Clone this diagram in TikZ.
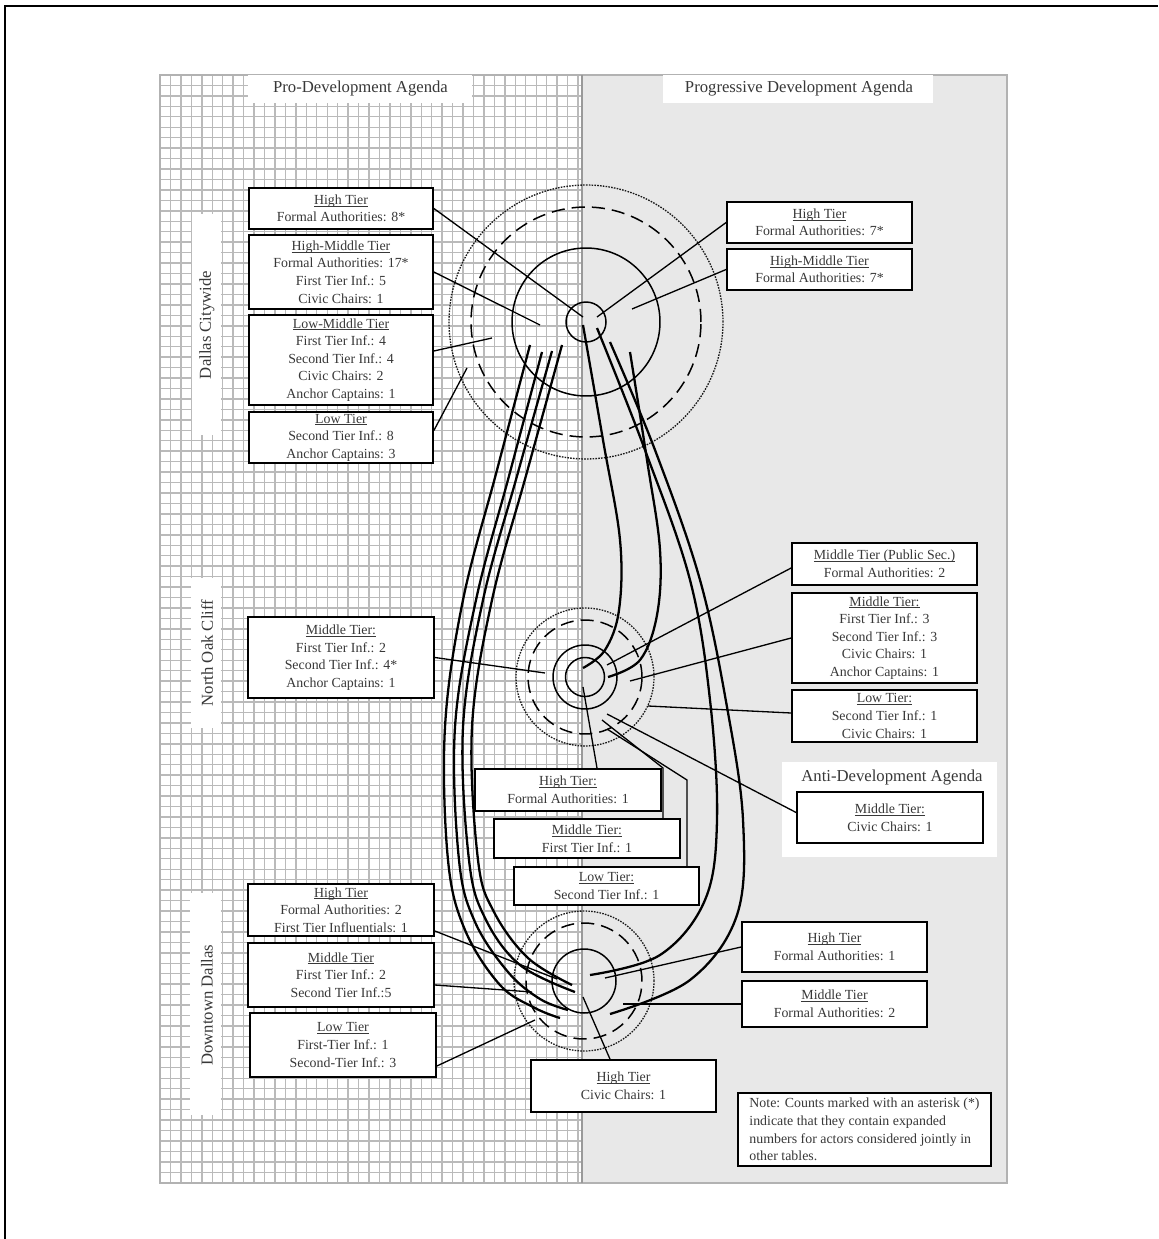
\documentclass[tikz,border=0pt]{standalone}
\usepackage{fontspec}
\setmainfont{Liberation Serif}
\usetikzlibrary{calc}
\newcommand\hd[1]{\setbox0\hbox{#1}\rlap{\rule[-1.1pt]{\wd0}{0.45pt}}\box0}
\begin{document}
\begin{tikzpicture}[x=0.02cm,y=-0.02cm,
  tbox/.style={draw=black, line width=1pt, fill=white, align=center, inner sep=0pt, text=black!78, font=\fontsize{7.9}{10}\selectfont},
  sz/.style 2 args={minimum width=#1*0.02cm, minimum height=#2*0.02cm},
  conn/.style={line width=0.75pt, black},
  loopline/.style={line width=1.3pt, black},
  ring/.style={line width=0.85pt, black},
  dring/.style={line width=0.85pt, black, dash pattern=on 7.5pt off 4pt},
  oring/.style={line width=0.75pt, black!90, dash pattern=on 0.9pt off 0.7pt},
  lab/.style={inner sep=0pt, text=black!78, font=\fontsize{9.5}{11}\selectfont},
  gridl/.style={line width=0.8pt, black!27},
]
\useasboundingbox (0,0) rectangle (1158,1239);
\fill[white] (0,0) rectangle (1158,1239);
% outer frame (top and left)
\draw[line width=1.1pt, black] (5,1239) -- (5,6) -- (1158,6);

% panel backgrounds
\fill[black!9] (582,75) rectangle (1007,1183);
\begin{scope}
  \clip (160,75) rectangle (582,1183);
  \foreach \i in {0,...,41} \draw[gridl] ({160+\i*10.45},75) -- ({160+\i*10.45},1183);
  \foreach \j in {0,...,106} \draw[gridl] (160,{75+\j*10.45}) -- (582,{75+\j*10.45});
\end{scope}
\draw[black!30, line width=0.8pt] (160,75) rectangle (1007,1183);
\draw[black!40, line width=1pt] (582,75) -- (582,1183);

% white label areas
\fill[white] (248,75) rectangle (472,103);
\fill[white] (663,75) rectangle (933,103);
\fill[white] (192,214) rectangle (221,435);
\fill[white] (191,578) rectangle (221,728);
\fill[white] (190,893) rectangle (221,1115);
\fill[white] (782,762) rectangle (997,857);
\node[lab] (proLab) at (360.5,89) {Pro-Development Agenda};
\node[lab] (progLab) at (799,89) {Progressive Development Agenda};
\node[lab, rotate=90] (dcw) at (207,325) {Dallas Citywide};
\node[lab, rotate=90] (noc) at (207,653) {North Oak Cliff};
\node[lab, rotate=90] (dtd) at (207,1005) {Downtown Dallas};
\node[lab] (antiLab) at (892,778) {Anti-Development Agenda};

% cluster centres
\coordinate (T) at (586,322);
\coordinate (M) at (585,677);
\coordinate (B) at (584,981);

% top cluster rings
\draw[oring] (T) circle[radius=2.74cm];
\draw[dring] (T) circle[radius=2.30cm];
\draw[ring] (T) circle[radius=1.48cm];
\draw[ring] (T) circle[radius=0.40cm];
% middle cluster rings
\draw[oring] (M) circle[radius=1.38cm];
\draw[dring] (M) circle[radius=1.14cm];
\draw[ring] (M) circle[radius=0.64cm];
\draw[ring] (M) circle[radius=0.39cm];
% bottom cluster rings
\draw[oring] (B) circle[radius=1.40cm];
\draw[dring] (B) circle[radius=1.16cm];
\draw[ring] (B) circle[radius=0.64cm];

% loops: left side, top to bottom
\draw[loopline] plot[smooth, tension=0.6] coordinates {(530,345) (497,470) (463,600) (445,727) (448,860) (465,930) (500,985) (535,1008) (560,1018)};
\draw[loopline] plot[smooth, tension=0.6] coordinates {(542,352) (509,476) (476,600) (455,727) (459,860) (475,922) (508,972) (540,999) (568,1010)};
\draw[loopline] plot[smooth, tension=0.6] coordinates {(552,351) (517,476) (483,600) (463,727) (469,860) (485,918) (520,965) (575,992)};
\draw[loopline] plot[smooth, tension=0.6] coordinates {(562,345) (527,472) (492,600) (472,727) (478,860) (494,912) (528,958) (572,985)};
% loops: right side
\draw[loopline] plot[smooth, tension=0.6] coordinates {(583,325) (603,440) (620,540) (619,610) (605,650) (583,668)};
\draw[loopline] plot[smooth, tension=0.6] coordinates {(630,352) (647,460) (660,550) (657,615) (640,660) (608,677)};
\draw[loopline] plot[smooth, tension=0.6] coordinates {(597,328) (645,450) (690,580) (710,700) (717,820) (705,900) (660,955) (590,975)};
\draw[loopline] plot[smooth, tension=0.6] coordinates {(610,342) (655,450) (700,580) (727,707) (743,820) (737,915) (690,980) (610,1014)};

% boxes: Dallas Citywide
\node[tbox, sz={184}{41}] (tlHigh) at (341,208.5) {\hd{High Tier}\\Formal Authorities: 8*};
\node[tbox, sz={184}{74}] (tlHM) at (341,272) {\hd{High-Middle Tier}\\Formal Authorities: 17*\\First Tier Inf.: 5\\Civic Chairs: 1};
\node[tbox, sz={184}{90}] (tlLM) at (341,360) {\hd{Low-Middle Tier}\\First Tier Inf.: 4\\Second Tier Inf.: 4\\Civic Chairs: 2\\Anchor Captains: 1};
\node[tbox, sz={184}{51}] (tlLow) at (341,437.5) {\hd{Low Tier}\\Second Tier Inf.: 8\\Anchor Captains: 3};
\node[tbox, sz={185}{41}] (trHigh) at (819.5,222.5) {\hd{High Tier}\\Formal Authorities: 7*};
\node[tbox, sz={185}{41}] (trHM) at (819.5,269.5) {\hd{High-Middle Tier}\\Formal Authorities: 7*};
% boxes: North Oak Cliff
\node[tbox, sz={186}{81}] (mlMid) at (341,657.5) {\hd{Middle Tier:}\\First Tier Inf.: 2\\Second Tier Inf.: 4*\\Anchor Captains: 1};
\node[tbox, sz={185}{42}] (mrPub) at (884.5,564) {\hd{Middle Tier (Public Sec.)}\\Formal Authorities: 2};
\node[tbox, sz={185}{90}] (mrMid) at (884.5,638) {\hd{Middle Tier:}\\First Tier Inf.: 3\\Second Tier Inf.: 3\\Civic Chairs: 1\\Anchor Captains: 1};
\node[tbox, sz={185}{52}] (mrLow) at (884.5,716) {\hd{Low Tier:}\\Second Tier Inf.: 1\\Civic Chairs: 1};
\node[tbox, sz={186}{51}] (antiMid) at (890,817.5) {\hd{Middle Tier:}\\Civic Chairs: 1};
\node[tbox, sz={186}{42}] (mbHigh) at (568,790) {\hd{High Tier:}\\Formal Authorities: 1};
\node[tbox, sz={186}{39}] (mbMid) at (587,838.5) {\hd{Middle Tier:}\\First Tier Inf.: 1};
\node[tbox, sz={185}{38}] (mbLow) at (606.5,886) {\hd{Low Tier:}\\Second Tier Inf.: 1};
% boxes: Downtown Dallas
\node[tbox, sz={186}{52}] (blHigh) at (341,910) {\hd{High Tier}\\Formal Authorities: 2\\First Tier Influentials: 1};
\node[tbox, sz={186}{64}] (blMid) at (341,975) {\hd{Middle Tier}\\First Tier Inf.: 2\\Second Tier Inf.:5};
\node[tbox, sz={186}{64}] (blLow) at (343,1045) {\hd{Low Tier}\\First-Tier Inf.: 1\\Second-Tier Inf.: 3};
\node[tbox, sz={185}{50}] (brHigh) at (834.5,947) {\hd{High Tier}\\Formal Authorities: 1};
\node[tbox, sz={185}{46}] (brMid) at (834.5,1004) {\hd{Middle Tier}\\Formal Authorities: 2};
\node[tbox, sz={185}{52}] (bcHigh) at (623.5,1086) {\hd{High Tier}\\Civic Chairs: 1};
\node[tbox, sz={253}{73}, align=left] (note) at (864.5,1129.5) {Note: Counts marked with an asterisk (*)\\indicate that they contain expanded\\numbers for actors considered jointly in\\other tables.};

% connector end points
\coordinate (e1) at (583,317);
\coordinate (e2) at (540,325);
\coordinate (e3) at (492,338);
\coordinate (e4) at (467,368);
\coordinate (e5) at (597,317);
\coordinate (e6) at (632,309);
\coordinate (e7) at (545,673);
\coordinate (e8) at (607,665);
\coordinate (e9) at (630,681);
\coordinate (e10) at (648,706);
\coordinate (e11) at (607,714);
\coordinate (e12) at (583,687);
\coordinate (e13) at (602,720);
\coordinate (k13) at (663,768);
\coordinate (e14) at (607,729);
\coordinate (k14) at (687,780);
\coordinate (e15) at (557,979);
\coordinate (e16) at (532,992);
\coordinate (e17) at (535,1020);
\coordinate (e18) at (605,978);
\coordinate (e19) at (623,1004);
\coordinate (e20) at (583,997);

% connectors
\draw[conn] (tlHigh.east) -- (e1);
\draw[conn] (tlHM.east) -- (e2);
\draw[conn] ($(tlLM.east)+(0,-9)$) -- (e3);
\draw[conn] ($(tlLow.east)+(0,-7)$) -- (e4);
\draw[conn] (trHigh.west) -- (e5);
\draw[conn] (trHM.west) -- (e6);
\draw[conn] (mlMid.east) -- (e7);
\draw[conn] ($(mrPub.west)+(0,4)$) -- (e8);
\draw[conn] (mrMid.west) -- (e9);
\draw[conn] ($(mrLow.west)+(0,-3)$) -- (e10);
\draw[conn] ($(antiMid.west)+(0,-5)$) -- (e11);
\draw[conn] ($(mbHigh.north)+(29,0)$) -- (e12);
\draw[conn] (e13) -- (k13) -- (k13 |- mbMid.north);
\draw[conn] (e14) -- (k14) -- (k14 |- mbLow.north);
\draw[conn] ($(blHigh.east)+(0,21)$) -- (e15);
\draw[conn] ($(blMid.east)+(0,10)$) -- (e16);
\draw[conn] ($(blLow.east)+(0,21)$) -- (e17);
\draw[conn] (brHigh.west) -- (e18);
\draw[conn] (brMid.west) -- (e19);
\draw[conn] ($(bcHigh.north)+(-13.5,0)$) -- (e20);
\end{tikzpicture}
\end{document}
